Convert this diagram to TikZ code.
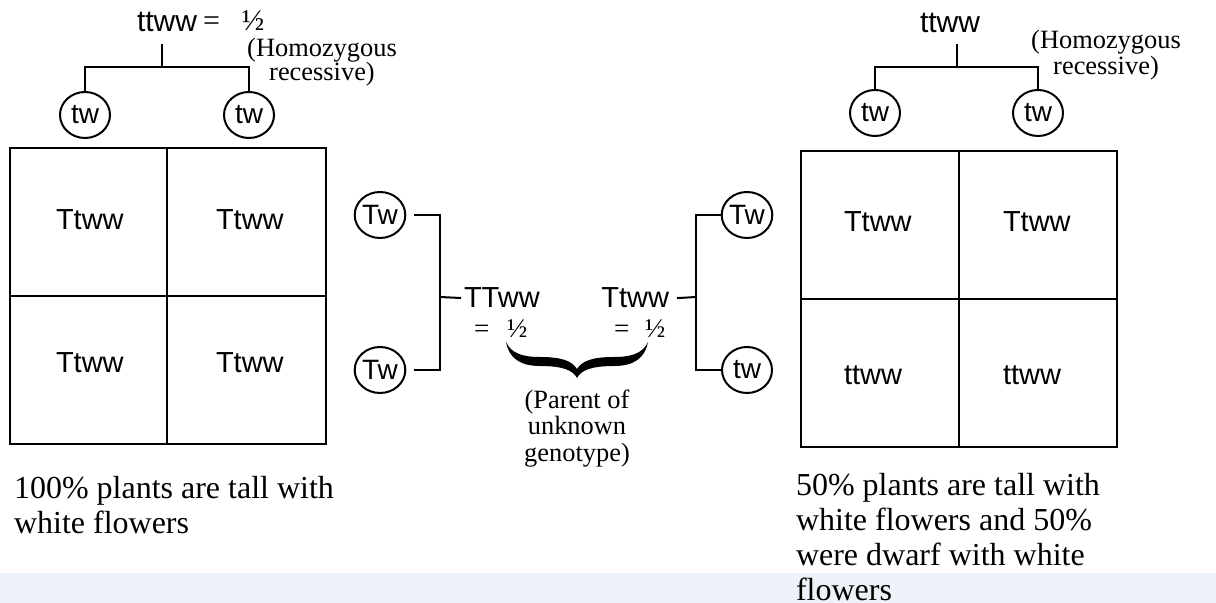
\documentclass[tikz,border=0pt]{standalone}
\usepackage{fontspec}
\setmainfont{Liberation Serif}
\setsansfont{Liberation Sans}
\usetikzlibrary{shapes.geometric}
\definecolor{bandblue}{HTML}{EDF1F8}
\newcommand\tightlines{\lineskiplimit=-20pt\relax}
\tikzset{
	gamete/.style={draw,ellipse,minimum width=25pt,minimum height=23pt,inner sep=0pt,font=\sffamily\fontsize{14}{14}\selectfont},
	geno/.style={inner sep=0pt,font=\sffamily\fontsize{14.5}{15}\selectfont},
	frac/.style={inner sep=0pt,font=\fontsize{13.5}{14}\selectfont},
	note/.style={inner sep=0pt,align=center,font=\fontsize{13.2}{13.2}\selectfont},
	caption/.style={inner sep=0pt,align=left,anchor=north west,font=\fontsize{16}{17.5}\selectfont}
}
\begin{document}
\begin{tikzpicture}[x=0.5pt,y=-0.5pt,line width=1pt]
	\useasboundingbox (0,0) rectangle (1216,603);
	\fill[bandblue] (0,573) rectangle (1216,603);
	% left cross
	\node[geno,font=\sffamily\fontsize{15}{15}\selectfont,anchor=base,inner ysep=5.5pt] (hrL) at (167,32) {ttww};
	\node[frac,font=\fontsize{15}{15}\selectfont,anchor=base west] (hrLf) at (202,31) {=\hspace{11pt}½};
	\node[note,font={\fontsize{13.2}{12}\selectfont\tightlines},anchor=north] (homL) at (322,37) {(Homozygous\\recessive)};
	\coordinate (jL) at (162,67);
	\node[gamete] (gL1) at (85,115) {tw};
	\node[gamete] (gL2) at (249,115) {tw};
	\draw (hrL.south -| jL) -- (jL);
	\draw (gL1.north) -- (gL1.north |- jL) -- (gL2.north |- jL) -- (gL2.north);
	\draw (10,148) rectangle (326,444);
	\draw (167,148) -- (167,444);
	\draw (10,296) -- (326,296);
	\node[geno,anchor=base west] (cL1) at (55,230) {Ttww};
	\node[geno,anchor=base west] (cL2) at (215,230) {Ttww};
	\node[geno,anchor=base west] (cL3) at (55,373) {Ttww};
	\node[geno,anchor=base west] (cL4) at (215,373) {Ttww};
	\node[caption] (capL) at (13,475) {100\% plants are tall with\\white flowers};
	% unknown parent
	\node[gamete] (uL1) at (380,215) {Tw};
	\node[gamete] (uL2) at (380,370) {Tw};
	\node[geno,anchor=base west] (pL) at (463,308) {TTww};
	\coordinate (bL) at (440,297);
	\draw ([xshift=4pt]uL1.east) -| (uL2.east -| bL) -- ([xshift=4pt]uL2.east);
	\draw (bL) -- ([xshift=-1pt]pL.west);
	\node[frac,anchor=base west] (pLf) at (473,338) {=\hspace{9pt}½};
	\node[gamete] (uR1) at (747,215) {Tw};
	\node[gamete] (uR2) at (747,370) {tw};
	\node[geno,anchor=base east] (pR) at (670,308) {Ttww};
	\coordinate (bR) at (696,297);
	\draw (uR1.west) -| (uR2.west -| bR) -- (uR2.west);
	\draw ([xshift=3.5pt]pR.east) -- (bR);
	\node[frac,anchor=base west] (pRf) at (613,338) {=\hspace{8pt}½};
	\fill (506,342) .. controls (509,358) and (520,366) .. (540,366)
		.. controls (562,366) and (573,370) .. (577,378)
		.. controls (581,370) and (592,366) .. (614,366)
		.. controls (634,366) and (645,358) .. (648,342)
		.. controls (643,353) and (632,357) .. (614,357)
		.. controls (592,357) and (582,361) .. (577,369)
		.. controls (572,361) and (562,357) .. (540,357)
		.. controls (522,357) and (511,353) .. (506,342) -- cycle;
	\node[note,anchor=north] (unk) at (577,389) {(Parent of\\unknown\\genotype)};
	% right cross
	\node[geno,font=\sffamily\fontsize{15}{15}\selectfont,anchor=base,inner ysep=5pt] (hrR) at (950,33) {ttww};
	\node[note,anchor=north] (homR) at (1106,29) {(Homozygous\\recessive)};
	\coordinate (jR) at (957,67);
	\node[gamete] (gR1) at (875,113) {tw};
	\node[gamete] (gR2) at (1038,113) {tw};
	\draw (hrR.south -| jR) -- (jR);
	\draw (gR1.north) -- (gR1.north |- jR) -- (gR2.north |- jR) -- (gR2.north);
	\draw (801,151) rectangle (1117,447);
	\draw (959,151) -- (959,447);
	\draw (801,299) -- (1117,299);
	\node[geno,anchor=base west] (cR1) at (843,232) {Ttww};
	\node[geno,anchor=base west] (cR2) at (1002,232) {Ttww};
	\node[geno,anchor=base west] (cR3) at (843,385) {ttww};
	\node[geno,anchor=base west] (cR4) at (1002,385) {ttww};
	\node[caption] (capR) at (795,472) {50\% plants are tall with\\white flowers and 50\%\\were dwarf with white\\flowers};
\end{tikzpicture}
\end{document}
